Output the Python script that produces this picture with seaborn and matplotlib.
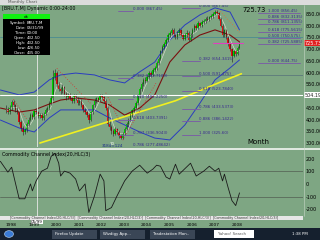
import numpy as np
import pandas as pd
import matplotlib
matplotlib.use("Agg")
import matplotlib.pyplot as plt
import seaborn as sns

sns.set_style("white")
plt.rcParams['font.family'] = ['DejaVu Sans']

# ---------------- data, monthly bars from Jan 1998 ----------------
open_ = [440, 445, 432, 450, 475, 460, 440, 430, 390, 365, 345, 355,
         380, 400, 420, 410, 435, 430, 415, 420, 405, 425, 440, 450,
         470, 490, 580, 600, 550, 530, 520, 540, 510, 495, 505, 490,
         480, 500, 490, 470, 480, 460, 440, 430, 420, 400, 430, 460,
         480, 490, 485, 500, 495, 480, 450, 380, 370, 350, 340, 360,
         345, 330, 320, 340, 360, 380, 400, 420, 440, 450, 470, 500,
         530, 550, 570, 565, 580, 600, 590, 610, 620, 640, 660, 690,
         710, 720, 740, 760, 770, 780, 760, 750, 770, 780, 760, 745,
         760, 770, 740, 760, 780, 800, 790, 810, 800, 815, 820, 830,
         825, 835, 840, 850, 860, 855, 830, 800, 760, 780, 750, 720,
         700, 670, 690, 680, 705]
close = [445, 432, 450, 475, 460, 440, 430, 390, 365, 345, 355, 380,
         400, 420, 410, 435, 430, 415, 420, 405, 425, 440, 450, 470,
         490, 580, 600, 550, 530, 520, 540, 510, 495, 505, 490, 480,
         500, 490, 470, 480, 460, 440, 430, 420, 400, 430, 460, 480,
         490, 485, 500, 495, 480, 450, 380, 370, 350, 340, 360, 345,
         330, 320, 340, 360, 380, 400, 420, 440, 450, 470, 500, 530,
         550, 570, 565, 580, 600, 590, 610, 620, 640, 660, 690, 710,
         720, 740, 760, 770, 780, 760, 750, 770, 780, 760, 745, 760,
         770, 740, 760, 780, 800, 790, 810, 800, 815, 820, 830, 825,
         835, 840, 850, 860, 855, 830, 800, 760, 780, 750, 720, 700,
         670, 690, 680, 705, 725.73]
high = [460, 455, 462, 485, 482, 468, 452, 438, 398, 372, 362, 388,
        410, 428, 428, 442, 445, 438, 428, 428, 432, 448, 458, 478,
        505, 610, 615, 605, 560, 538, 552, 545, 518, 515, 512, 498,
        510, 508, 496, 488, 486, 466, 448, 438, 428, 438, 468, 490,
        498, 496, 508, 510, 500, 488, 458, 392, 378, 360, 368, 365,
        352, 338, 345, 368, 388, 408, 428, 446, 458, 478, 508, 540,
        560, 578, 582, 588, 608, 605, 618, 628, 648, 668, 698, 718,
        730, 748, 768, 778, 790, 788, 765, 778, 790, 785, 765, 768,
        780, 778, 768, 788, 808, 805, 818, 815, 822, 828, 838, 840,
        842, 848, 858, 867.45, 865, 860, 835, 805, 785, 785, 758, 725,
        705, 695, 698, 712, 730]
low = [428, 425, 425, 442, 452, 432, 422, 380, 352, 335, 338, 348,
       372, 392, 402, 402, 422, 405, 408, 398, 398, 418, 432, 442,
       462, 482, 568, 540, 520, 508, 512, 502, 485, 488, 482, 470,
       472, 482, 462, 462, 452, 432, 422, 412, 385, 395, 425, 452,
       472, 478, 478, 488, 472, 442, 372, 355, 340, 328, 335, 338,
       322, 315, 316, 335, 355, 372, 395, 412, 432, 442, 462, 492,
       522, 542, 556, 558, 572, 582, 585, 602, 612, 632, 652, 682,
       702, 712, 732, 752, 762, 752, 742, 745, 762, 755, 738, 738,
       752, 735, 735, 752, 772, 782, 785, 795, 795, 808, 812, 818,
       818, 828, 832, 845, 848, 825, 795, 752, 752, 745, 712, 692,
       644.75, 665, 672, 675, 700]

# indicator lines, read at sparse months
ind_idx = [-3, 7, 15, 23, 29, 37, 47, 55, 63, 71, 79, 87, 95, 103, 111, 119, 124]
upper_band = [526, 505, 517, 569, 590, 598, 590, 569, 556, 603, 645, 739, 803, 846, 876, 858, 782]
lower_band = [398, 364, 347, 407, 441, 441, 441, 407, 377, 347, 321, 313, 377, 470, 569, 620, 654]
maroon_ma = [449, 432, 441, 466, 483, 492, 483, 462, 419, 449, 505, 645, 718, 760, 782, 760, 731]
yellow_idx = [18, 30, 42, 54, 66, 78, 90, 102, 114, 125]
yellow_ma = [300, 330, 360, 390, 420, 450, 480, 520, 560, 595]

# parabolic-stop style dotted runs: (first month, last month, first value, last value)
sar_runs = [(4, 11, 486, 402), (27, 45, 618, 468), (53, 61, 514, 382), (62, 80, 312, 560), (113, 124, 868, 772)]

cci_idx = [-3, 1, 3, 7, 10, 13, 14, 16, 19, 22, 24, 26, 28, 29, 31, 34, 37, 39, 42, 44, 47, 50, 52, 53,
           56, 59, 63, 67, 71, 75, 78, 80, 82, 85, 87, 90, 92, 98, 101, 105, 108, 111, 113, 115, 116,
           118, 120, 122, 124]
cci = [180, 94, 133, -118, -118, 0, -55, 24, 102, 125, 220, 243, 165, 63, 102, 86, 39, -55, 0, -227,
       -94, 78, 24, -212, -188, -94, 24, 102, 149, 86, 118, 149, 141, 55, 39, 157, 78, 165, 63, 102,
       141, 102, 125, 24, 78, -31, -133, -172, -71]

fib_right = [("1.000 (856.45)", 856.45), ("0.886 (832.3135)", 832.31), ("0.786 (811.1355)", 811.14),
             ("0.618 (775.5615)", 775.56), ("0.500 (750.575)", 750.58), ("0.382 (725.5885)", 725.59),
             ("0.000 (644.75)", 644.75)]
fib_mid = [("0.000 (867.45)", 880), ("0.382 (654.3415)", 654.34), ("0.500 (591.475)", 591.48),
           ("0.618 (523.7840)", 523.78), ("0.786 (433.5373)", 449.0), ("0.886 (386.1422)", 396.0),
           ("1.000 (325.60)", 340.0)]
fib_left = [("0.000 (867.45)", 866), ("0.382 (580.7109)", 580.7), ("0.500 (492.2250)", 492.2),
            ("0.618 (403.7391)", 403.7), ("0.707 (336.9043)", 340.0), ("0.786 (277.48642)", 287.0)]
price_ticks = [300, 350, 400, 450, 550, 600, 650, 700, 750, 800, 850]
cci_ticks = [-200, -100, 0, 100, 200]
years = list(range(1998, 2009))

# ---------------- layout helpers ----------------
W, H = 320, 240
BG = '#7ea683'
fig = plt.figure(figsize=(3.2, 2.4), dpi=100)
fig.patch.set_facecolor(BG)


def rect(x0, y0, x1, y1):
    return [x0 / W, 1 - y1 / H, (x1 - x0) / W, (y1 - y0) / H]


def px_to_i(x):
    return (x - 6) / 1.883


XL = (px_to_i(0), px_to_i(303))
FIBFS = 2.9

ax = fig.add_axes(rect(0, 5, 303, 147))
cax = fig.add_axes(rect(0, 150, 303, 216))
for a in (ax, cax):
    a.set_facecolor(BG)
    a.set_xlim(*XL)
    for s in a.spines.values():
        s.set_visible(False)
    a.set_xticks([])
    a.yaxis.tick_right()
    a.tick_params(axis='y', length=0, pad=2, labelsize=3.5, colors='black')
ax.set_ylim(283, 888)
cax.set_ylim(-255, 270)
ax.set_yticks(price_ticks)
ax.set_yticklabels([f"{v:.2f}" for v in price_ticks])
cax.set_yticks(cci_ticks)
cax.set_yticklabels([str(v) for v in cci_ticks])
for a in (ax, cax):
    for lab in a.get_yticklabels():
        lab.set_clip_on(False)

# long level lines
ax.axhline(750.575, color='#4a8c92', lw=0.6)
ax.plot([px_to_i(100), px_to_i(303)], [591.475, 591.475], color='#55707a', lw=0.5)
for v in [100, -100]:
    cax.axhline(v, color='#5a6a5a', lw=0.6)

# indicators
df_ind = pd.DataFrame({'i': ind_idx, 'up': upper_band, 'lo': lower_band, 'mr': maroon_ma})
sns.lineplot(data=df_ind, x='i', y='up', ax=ax, color='#2a3cc0', lw=0.7, legend=False)
sns.lineplot(data=df_ind, x='i', y='lo', ax=ax, color='#2a3cc0', lw=0.7, legend=False)
sns.lineplot(data=df_ind, x='i', y='mr', ax=ax, color='#7a1010', lw=0.8, legend=False)
sns.lineplot(x=yellow_idx, y=yellow_ma, ax=ax, color='#f0f020', lw=1.2, legend=False)
bars = pd.DataFrame({'i': np.arange(len(close)), 'c': close})
bars['ma'] = bars['c'].rolling(5, min_periods=1).mean()
sns.lineplot(data=bars, x='i', y='ma', ax=ax, color='#dcdcd0', lw=0.45, legend=False)
for k, (i0, i1, v0, v1) in enumerate(sar_runs):
    col = '#e86a3a' if k == len(sar_runs) - 1 else '#d83030'
    ax.plot([i0, i1], [v0, v1], color=col, lw=0.6, ls=(0, (1, 2)))

# candles
idx = np.arange(len(close))
ax.vlines(idx, low, high, color='#202020', lw=0.4)
o = np.array(open_, float)
c = np.array(close, float)
up = c >= o
ax.bar(idx, np.maximum(np.abs(c - o), 3), bottom=np.minimum(o, c), width=0.8,
       color=np.where(up, '#00d000', '#e01010'), lw=0)

# fib levels
for lab, v in fib_right:
    ax.plot([px_to_i(258), px_to_i(300)], [v - 4, v - 4], color='#7a58a8', lw=0.6)
    ax.text(px_to_i(268), v - 4, lab, fontsize=FIBFS, color='#3a2a90', va='bottom')
for lab, v in fib_mid:
    ax.plot([px_to_i(182), px_to_i(200)], [v - 4, v - 4], color='#7a58a8', lw=0.6)
    ax.text(px_to_i(199), v - 4, lab, fontsize=FIBFS, color='#3a2a90', va='bottom')
for lab, v in fib_left:
    ax.plot([px_to_i(118), px_to_i(133)], [v - 4, v - 4], color='#7a58a8', lw=0.6)
    ax.text(px_to_i(133), v - 4, lab, fontsize=FIBFS, color='#3a2a90', va='bottom')

# crosshair & current price
ax.axhline(504.19, color='white', lw=0.8)
ax.axvline(px_to_i(37), color='#e8e8e8', lw=0.6)
cax.axvline(px_to_i(37), color='#e8e8e8', lw=0.6)
ax.plot([px_to_i(213), px_to_i(243)], [727, 727], color='#e040c0', lw=0.8)
ax.text(1.005, 504.19, "504.19", transform=ax.get_yaxis_transform(), fontsize=3.5, va='center',
        bbox=dict(fc='white', ec='none', pad=0.3), clip_on=False)
ax.text(1.005, 725.73, "725.73", transform=ax.get_yaxis_transform(), fontsize=3.5, va='center', color='white',
        bbox=dict(fc='#e02020', ec='none', pad=0.3), clip_on=False)
ax.text(px_to_i(242), 860, "725.73", fontsize=4.8, color='black')
ax.text(px_to_i(247), 297, "Month", fontsize=5, color='black')
ax.text(px_to_i(112), 292, "20", fontsize=2.8, color='white', ha='center')
ax.text(px_to_i(112), 281, "3184=124", fontsize=3, color='#1a2a8a', ha='center')

# CCI
sns.lineplot(x=cci_idx, y=cci, ax=cax, color='#1a1a1a', lw=0.6, legend=False)
cax.text(px_to_i(2), 235, "Commodity Channel Index(20,HLC/3)", fontsize=3.4, color='black', va='center')

# panel separator and right edge line
fig.patches.append(plt.Rectangle((0, 1 - 149.5 / H), 1, 2 / H, transform=fig.transFigure, fc='#dfe8df', ec='none'))
fig.lines.append(plt.Line2D([303.5 / W, 303.5 / W], [1 - 216 / H, 1 - 5 / H], transform=fig.transFigure,
                            color='#c8d8c8', lw=0.4))

# header / info box
fig.patches.append(plt.Rectangle((0, 1 - 5 / H), 1, 5 / H, transform=fig.transFigure, fc='#dcdcdc', ec='none'))
fig.text(8 / W, 1 - 2.5 / H, "Monthly Chart", fontsize=3, color='#555555', va='center')
fig.text(2 / W, 1 - 8.5 / H, "[BRU.T,M] Dynamic 0:00-24:00", fontsize=3.4, color='black', va='center')
fig.patches.append(plt.Rectangle((3 / W, 1 - 55 / H), 47 / W, 41 / H, transform=fig.transFigure, fc='black', ec='none'))
fig.patches.append(plt.Rectangle((3 / W, 1 - 19 / H), 47 / W, 5 / H, transform=fig.transFigure, fc='#10f010', ec='none'))
fig.text(26 / W, 1 - 16.5 / H, "ok", fontsize=3, color='black', va='center', ha='center')
info_k = ["Symbol:", "Date:", "Time:", "Open:", "High:", "Low:", "Close:"]
info_v = ["BRU.T,M", "05/31/99", "00:00", "432.50", "432.50", "426.50", "435.00"]
for k, (a_, b_) in enumerate(zip(info_k, info_v)):
    fig.text(26 / W, 1 - (23 + k * 5) / H, a_, fontsize=2.8, color='white', va='center', ha='right')
    fig.text(27 / W, 1 - (23 + k * 5) / H, b_, fontsize=2.8, color='white', va='center', ha='left')

# bottom strips
fig.patches.append(plt.Rectangle((0, 1 - 220 / H), 303 / W, 4 / H, transform=fig.transFigure, fc='#e6e6e6', ec='none'))
fig.text(10 / W, 1 - 218 / H, "[Commodity Channel Index(20,HLC/3)]  " * 4, fontsize=2.4, color='#333333', va='center')
fig.text(31 / W, 1 - 222 / H, "05/99", fontsize=3, color='black', va='center',
         bbox=dict(fc='white', ec='none', pad=0.3))
for y in years:
    fig.text((11 + (y - 1998) * 22.6) / W, 1 - 225.5 / H, str(y), fontsize=3.2, color='black', va='center', ha='center')
fig.patches.append(plt.Rectangle((0, 0), 1, 12 / H, transform=fig.transFigure, fc='#15202e', ec='none'))
fig.patches.append(plt.Circle((9 / W, 6 / H), 4.5 / W, transform=fig.transFigure, fc='#3a7bd5', ec='#c0d8f0', lw=0.4))
for x0, t in [(52, "Firefox Update"), (100, "Wizdigy App..."), (150, "Tradestation Mon..")]:
    fig.patches.append(plt.Rectangle((x0 / W, 1.5 / H), 45 / W, 9 / H, transform=fig.transFigure, fc='#3a4656', ec='none'))
    fig.text((x0 + 3) / W, 6 / H, t, fontsize=2.8, color='white', va='center')
fig.patches.append(plt.Rectangle((214 / W, 2 / H), 40 / W, 8 / H, transform=fig.transFigure, fc='white', ec='none'))
fig.text(218 / W, 6 / H, "Yahoo! Search", fontsize=2.8, color='#555555', va='center')
fig.text(300 / W, 6 / H, "1:38 PM", fontsize=2.8, color='white', va='center', ha='center')

fig.savefig("out.png", dpi=100, facecolor=BG)
